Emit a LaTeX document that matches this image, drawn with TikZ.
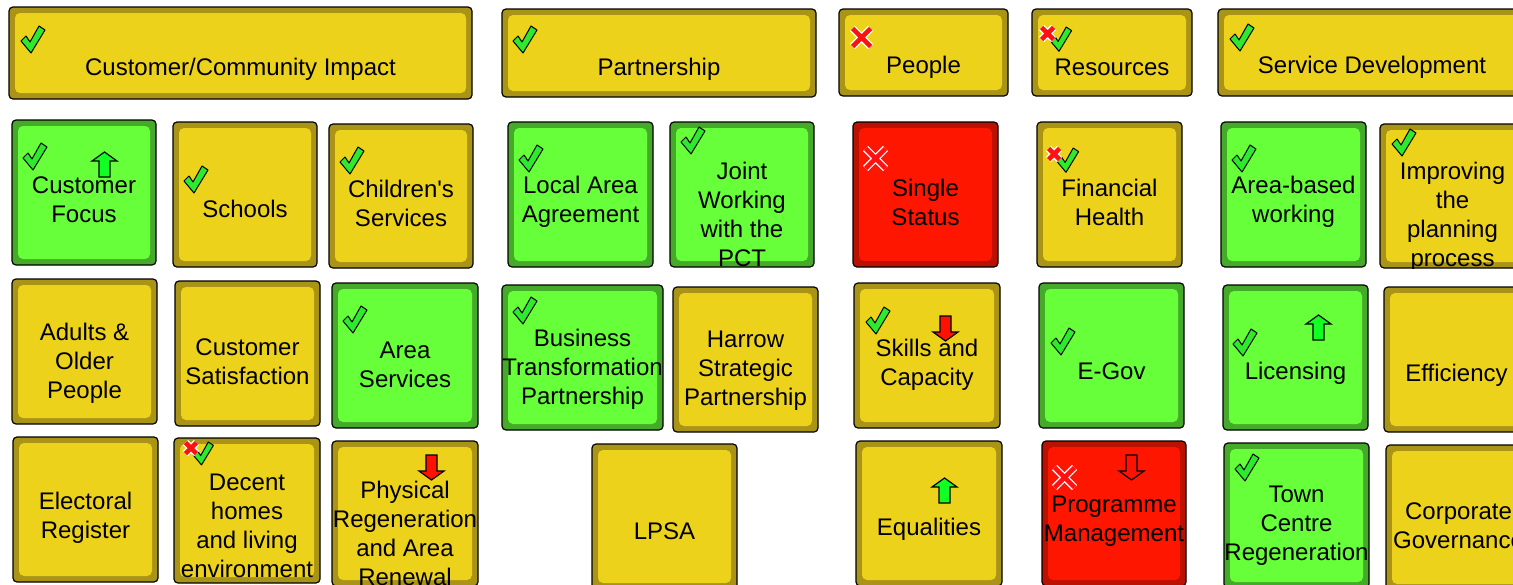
\documentclass[tikz,border=0pt]{standalone}
\usepackage{fontspec}
\setmainfont{Liberation Sans}
\usetikzlibrary{positioning}
\definecolor{yelFill}{HTML}{EDD21B}
\definecolor{yelBand}{HTML}{A99418}
\definecolor{grnFill}{HTML}{66FF3A}
\definecolor{grnBand}{HTML}{45AA2A}
\definecolor{redFill}{HTML}{FF1600}
\definecolor{redBand}{HTML}{BB1100}
\definecolor{tickGreen}{HTML}{2EEA2E}
\definecolor{arrGreen}{HTML}{11FF22}
\definecolor{arrRed}{HTML}{FF1100}
\definecolor{xRed}{HTML}{FF1111}

\tikzset{
  tileEdge/.style={draw=black, line width=0.6pt, rounded corners=2pt},
  tileText/.style={align=center, inner sep=0pt, font=\fontsize{12}{14.5}\selectfont},
  pics/okMark/.style={code={
    \filldraw[fill=tickGreen, draw=black, line width=0.5pt, line join=round]
      (0,15) -- (5,10) -- (9,16) -- (18,0) -- (24,4) -- (10,27) -- cycle;}},
  pics/failMark/.style={code={
    \draw[white, line width=3.6pt] (0,0) -- (#1,#1) (0,#1) -- (#1,0);
    \draw[xRed, line width=2.3pt] (0,0) -- (#1,#1) (0,#1) -- (#1,0);}},
  pics/upArrow/.style={code={
    \filldraw[fill=#1, draw=black, line width=0.6pt]
      (12.5,0) -- (25,9) -- (18,9) -- (18,25) -- (7,25) -- (7,9) -- (0,9) -- cycle;}},
  pics/downArrow/.style={code={
    \filldraw[fill=#1, draw=black, line width=0.6pt]
      (7,0) -- (18,0) -- (18,16) -- (25,16) -- (12.5,25) -- (0,16) -- (7,16) -- cycle;}},
}

% name, colour, x1, y1, x2, y2, text centre y, text
\newcommand{\kpiTile}[8]{%
  \fill[#2Band, rounded corners=2pt] (#3,#4) rectangle (#5,#6);
  \fill[#2Fill, rounded corners=2.5pt] (#3+6,#4+6) rectangle (#5-6,#6-6);
  \begin{scope}
    \clip[rounded corners=2pt] (#3,#4) rectangle (#5,#6);
    \node[tileText] (#1) at ({(#3+#5)/2},#7) {#8};
  \end{scope}
  \draw[tileEdge] (#3,#4) rectangle (#5,#6);
}

\begin{document}
\begin{tikzpicture}[x=0.5pt, y=-0.5pt]
  \useasboundingbox (0,0) rectangle (1513,584);
  \clip (0,0) rectangle (1513,584);
  \fill[white] (0,0) rectangle (1513,584);

  % headers
  \kpiTile{hCustomer}{yel}{9}{7}{472}{99}{69}{Customer/Community Impact}
  \kpiTile{hPartner}{yel}{502}{9}{816}{97}{69}{Partnership}
  \kpiTile{hPeople}{yel}{839}{9}{1008}{96}{67}{People}
  \kpiTile{hResources}{yel}{1032}{9}{1192}{96}{67}{Resources}
  \kpiTile{hService}{yel}{1218}{9}{1526}{96}{67}{Service Development}

  % second row
  \kpiTile{custFocus}{grn}{12}{120}{156}{265}{200}{Customer\\Focus}
  \kpiTile{schools}{yel}{173}{122}{317}{267}{209}{Schools}
  \kpiTile{children}{yel}{329}{124}{473}{268}{203.5}{Children\textquotesingle s\\Services}
  \kpiTile{localArea}{grn}{508}{122}{653}{267}{202}{Local Area\\Agreement}
  \kpiTile{jointWork}{grn}{670}{122}{814}{267}{214.5}{Joint\\Working\\with the\\PCT}
  \kpiTile{single}{red}{853}{122}{998}{267}{202}{Single\\Status}
  \kpiTile{financial}{yel}{1037}{122}{1182}{267}{202}{Financial\\Health}
  \kpiTile{areaBased}{grn}{1221}{122}{1366}{267}{202}{Area-based\\working}
  \kpiTile{improving}{yel}{1380}{124}{1525}{268}{216.5}{Improving\\the\\planning\\process}

  % third row
  \kpiTile{adults}{yel}{12}{279}{157}{424}{363}{Adults \&\\Older\\People}
  \kpiTile{custSat}{yel}{175}{281}{320}{426}{362}{Customer\\Satisfaction}
  \kpiTile{areaServ}{grn}{332}{283}{478}{428}{364.5}{Area\\Services}
  \kpiTile{business}{grn}{502}{285}{663}{430}{369}{Business\\Transformation\\Partnership}
  \kpiTile{harrow}{yel}{673}{287}{818}{432}{371}{Harrow\\Strategic\\Partnership}
  \kpiTile{skills}{yel}{854}{283}{1000}{428}{364.5}{Skills and\\Capacity}
  \kpiTile{eGov}{grn}{1039}{283}{1184}{428}{371}{E-Gov}
  \kpiTile{licensing}{grn}{1223}{285}{1368}{430}{373}{Licensing}
  \kpiTile{efficiency}{yel}{1384}{287}{1529}{432}{375}{Efficiency}

  % fourth row
  \kpiTile{electoral}{yel}{13}{437}{158}{582}{517.5}{Electoral\\Register}
  \kpiTile{decent}{yel}{174}{438}{320}{583}{525.5}{Decent\\homes\\and living\\environment}
  \kpiTile{physical}{yel}{332}{441}{478}{586}{533.5}{Physical\\Regeneration\\and Area\\Renewal}
  \kpiTile{lpsa}{yel}{592}{444}{737}{589}{531}{LPSA}
  \kpiTile{equalities}{yel}{856}{441}{1002}{586}{529}{Equalities}
  \kpiTile{programme}{red}{1042}{441}{1186}{586}{521.5}{Programme\\Management}
  \kpiTile{townCentre}{grn}{1224}{443}{1369}{588}{526}{Town\\Centre\\Regeneration}
  \kpiTile{corporate}{yel}{1386}{445}{1531}{590}{525.5}{Corporate\\Governance}

  % status marks
  \pic at (21,26) {okMark};
  \pic at (513,26) {okMark};
  \pic at (1230,24) {okMark};
  \pic[scale=0.9] at (1050,27) {okMark};
  \pic at (852.5,28.5) {failMark=18};
  \pic at (1041.5,27.5) {failMark=12};

  \pic at (23,143) {okMark};
  \pic at (184,166) {okMark};
  \pic at (340,147) {okMark};
  \pic at (519,145) {okMark};
  \pic at (681,127) {okMark};
  \pic[scale=0.9] at (1057,148) {okMark};
  \pic at (1048.5,148.5) {failMark=11};
  \pic at (1232,145) {okMark};
  \pic at (1392,129) {okMark};
  \pic at (865.5,148.5) {failMark=20};

  \pic at (343,306) {okMark};
  \pic at (513,297) {okMark};
  \pic at (866,307) {okMark};
  \pic at (1051,328) {okMark};
  \pic at (1233,329) {okMark};

  \pic[scale=0.85] at (193,442) {okMark};
  \pic at (185.5,442.5) {failMark=11};
  \pic at (1235,454) {okMark};
  \pic at (1054.5,467.5) {failMark=20};

  % trend arrows
  \pic at (92,152) {upArrow=arrGreen};
  \pic at (1306,315) {upArrow=arrGreen};
  \pic at (932,478) {upArrow=arrGreen};
  \pic at (933,316) {downArrow=arrRed};
  \pic at (419,455) {downArrow=arrRed};
  \pic at (1119,455) {downArrow=arrRed};
\end{tikzpicture}
\end{document}
